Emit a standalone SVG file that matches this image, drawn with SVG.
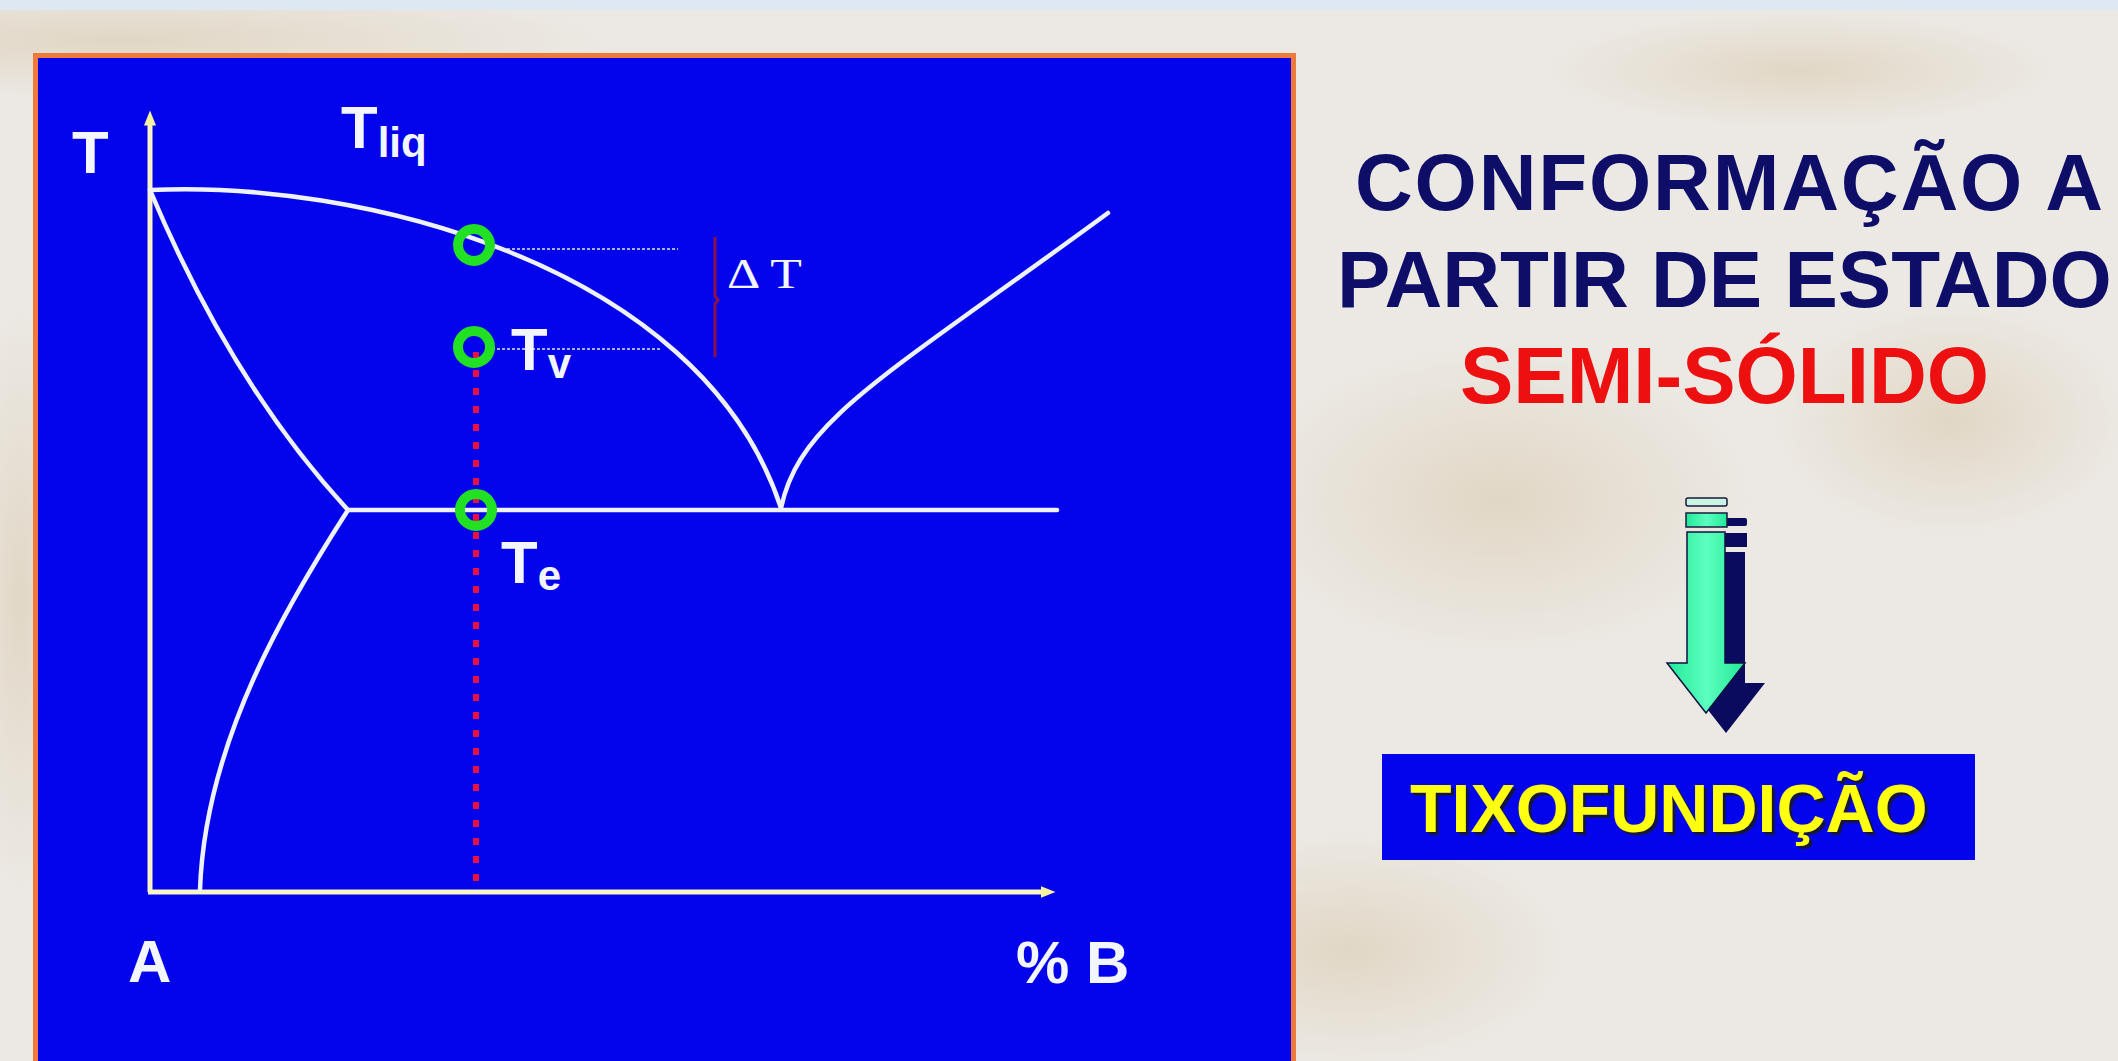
<svg xmlns="http://www.w3.org/2000/svg" width="2118" height="1061" viewBox="0 0 2118 1061">
  <defs>
    <style>
      .lbl { font-family: "Liberation Sans", Arial, sans-serif; font-weight: bold; fill: #f4f6ff; }
      .curve { fill: none; stroke: #eef2ff; stroke-width: 4.5; stroke-linecap: round; }
      .axis { fill: none; stroke: #f8f4c6; stroke-width: 5; }
      .ring { fill: none; stroke: #22e022; stroke-width: 10; }
      .guide { stroke: #dfe6ff; stroke-width: 1.6; stroke-dasharray: 3 2; }
      .title { font-family: "Liberation Sans", Arial, sans-serif; font-weight: bold; font-size: 80px; }
    </style>
    <radialGradient id="blob" cx="0.5" cy="0.5" r="0.5">
      <stop offset="0" stop-color="#d8c8ac" stop-opacity="0.55"/>
      <stop offset="1" stop-color="#d8c8ac" stop-opacity="0"/>
    </radialGradient>
    <linearGradient id="grn" x1="0" y1="0" x2="1" y2="0">
      <stop offset="0" stop-color="#22e898"/>
      <stop offset="0.5" stop-color="#5cffbe"/>
      <stop offset="1" stop-color="#22e898"/>
    </linearGradient>
    <marker id="ah" viewBox="0 0 10 10" refX="5" refY="5" markerWidth="3" markerHeight="3" orient="auto">
      <path d="M0,1 L10,5 L0,9 z" fill="#f6f2a0"/>
    </marker>
  </defs>

  <!-- background -->
  <rect x="0" y="0" width="2118" height="1061" fill="#ece9e4"/>
  <ellipse cx="120" cy="40" rx="500" ry="60" fill="url(#blob)"/>
  <ellipse cx="1500" cy="500" rx="260" ry="160" fill="url(#blob)"/>
  <ellipse cx="1950" cy="420" rx="180" ry="120" fill="url(#blob)"/>
  <ellipse cx="1350" cy="950" rx="220" ry="120" fill="url(#blob)"/>
  <ellipse cx="1800" cy="70" rx="260" ry="60" fill="url(#blob)"/>
  <ellipse cx="20" cy="600" rx="60" ry="300" fill="url(#blob)"/>
  <rect x="0" y="0" width="2118" height="10" fill="#dde8f3"/>

  <!-- panel -->
  <g id="panel">
    <rect x="35.5" y="55.5" width="1258" height="1015" fill="#0404ec" stroke="#f07a3a" stroke-width="5"/>
  </g>

  <!-- connectors / diagram lines -->
  <g id="connectors">
    <line class="axis" x1="150" y1="892" x2="150" y2="118" marker-end="url(#ah)"/>
    <line class="axis" x1="148" y1="892" x2="1048" y2="892" marker-end="url(#ah)"/>
    <!-- liquidus left -->
    <path class="curve" d="M150,190 C350,180 700,260 781,508"/>
    <!-- liquidus right -->
    <path class="curve" d="M781,508 C800,420 880,380 1108,213"/>
    <!-- solvus upper -->
    <path class="curve" d="M150,190 Q232,385 348,510"/>
    <!-- solvus lower -->
    <path class="curve" d="M348,510 C290,600 205,740 200,890"/>
    <!-- eutectic line -->
    <line class="curve" x1="348" y1="510" x2="1057" y2="510"/>
    <!-- guide lines -->
    <line class="guide" x1="492" y1="249" x2="678" y2="249"/>
    <line class="guide" x1="492" y1="349" x2="660" y2="349"/>
    <!-- delta T bracket -->
    <path d="M715,237 L715,296 L718,300 L715,304 L715,357" fill="none" stroke="#8a1248" stroke-width="3"/>
    <!-- red dotted vertical -->
    <line x1="476" y1="352" x2="476" y2="890" stroke="#e8103c" stroke-width="6" stroke-dasharray="7 11"/>
  </g>

  <g id="node-liquidus-point"><circle class="ring" cx="474" cy="245" r="16"/></g>
  <g id="node-tv-point"><circle class="ring" cx="474" cy="347" r="16"/></g>
  <g id="node-te-point"><circle class="ring" cx="476" cy="510" r="16"/></g>

  <!-- labels -->
  <g id="label-T"><text class="lbl" x="72" y="173" font-size="60">T</text></g>
  <g id="label-Tliq"><text class="lbl" x="341" y="148" font-size="60">T<tspan font-size="42" dy="9">liq</tspan></text></g>
  <g id="label-Tv"><text class="lbl" x="511" y="370" font-size="60">T<tspan font-size="42" dy="8">v</tspan></text></g>
  <g id="label-Te"><text class="lbl" x="501" y="583" font-size="60">T<tspan font-size="42" dy="7">e</tspan></text></g>
  <g id="label-dT"><text x="727" y="288" font-family="Liberation Serif, 'Times New Roman', serif" font-size="42" fill="#f4f6ff" textLength="75" lengthAdjust="spacingAndGlyphs">Δ T</text></g>
  <g id="label-A"><text class="lbl" x="128" y="982" font-size="60">A</text></g>
  <g id="label-B"><text class="lbl" x="1016" y="983" font-size="60">% B</text></g>

  <!-- right titles -->
  <g id="title">
    <text class="title" x="1355" y="210" fill="#0e0e68" textLength="748" lengthAdjust="spacing">CONFORMAÇÃO A</text>
    <text class="title" x="1337" y="307" fill="#0e0e68">PARTIR DE ESTADO</text>
    <text class="title" x="1460" y="403" fill="#ee1010">SEMI-SÓLIDO</text>
  </g>

  <!-- arrow -->
  <g id="arrow">
    <g transform="translate(20,20)" fill="#0a0a5e">
      <rect x="1686" y="498" width="41" height="8" rx="2"/>
      <rect x="1686" y="513" width="41" height="14"/>
      <polygon points="1687,532 1725,532 1725,663 1745,663 1706,713 1667,663 1687,663"/>
    </g>
    <rect x="1686" y="498" width="41" height="8" rx="2" fill="#c8f6e2" stroke="#1a1a40" stroke-width="1.5"/>
    <rect x="1686" y="513" width="41" height="14" fill="url(#grn)" stroke="#1a1a40" stroke-width="1.5"/>
    <polygon points="1687,532 1725,532 1725,663 1745,663 1706,713 1667,663 1687,663" fill="url(#grn)" stroke="#101040" stroke-width="1.5"/>
  </g>

  <!-- result box -->
  <g id="node-tixofundicao">
    <rect x="1382" y="754" width="593" height="106" fill="#0404ec"/>
    <text x="1413" y="835" font-family="Liberation Sans, Arial, sans-serif" font-weight="bold" font-size="68" fill="#1a1a1a" opacity="0.8">TIXOFUNDIÇÃO</text>
    <text x="1410" y="832" font-family="Liberation Sans, Arial, sans-serif" font-weight="bold" font-size="68" fill="#ffff10">TIXOFUNDIÇÃO</text>
  </g>
</svg>
